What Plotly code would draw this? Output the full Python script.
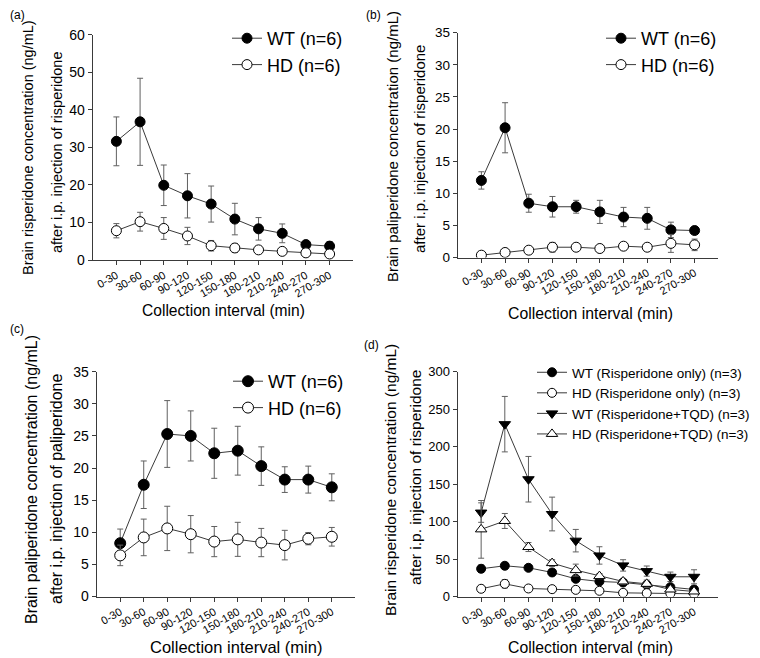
import plotly.graph_objects as go

categories = ["0-30", "30-60", "60-90", "90-120", "120-150", "150-180",
              "180-210", "210-240", "240-270", "270-300"]

# Panel (a): brain risperidone after risperidone injection
a_wt = [31.6, 36.8, 19.9, 17.1, 14.9, 10.9, 8.3, 7.1, 4.1, 3.7]
a_wt_se = [6.5, 11.6, 5.4, 5.9, 4.8, 4.2, 3.0, 2.5, 0.6, 1.2]
a_hd = [7.8, 10.2, 8.4, 6.4, 3.8, 3.2, 2.7, 2.3, 1.9, 1.6]
a_hd_se = [1.9, 2.5, 2.9, 2.3, 1.4, 1.2, 0.8, 0.5, 0.3, 0.3]

# Panel (b): brain paliperidone after risperidone injection
b_wt = [12.0, 20.2, 8.45, 7.9, 7.9, 7.1, 6.3, 6.1, 4.3, 4.2]
b_wt_se = [1.35, 3.9, 1.4, 1.6, 1.0, 1.8, 1.5, 1.7, 1.2, 0.3]
b_hd = [0.36, 0.78, 1.14, 1.6, 1.6, 1.4, 1.76, 1.6, 2.2, 1.97]
b_hd_se = [0.2, 0.3, 0.3, 0.75, 0.4, 0.4, 0.4, 0.4, 1.4, 0.9]

# Panel (c): brain paliperidone after paliperidone injection
c_wt = [8.3, 17.4, 25.3, 25.0, 22.3, 22.7, 20.3, 18.2, 18.2, 17.0]
c_wt_se = [2.2, 3.7, 5.2, 3.9, 3.9, 3.8, 3.0, 2.0, 2.1, 2.1]
c_hd = [6.4, 9.2, 10.6, 9.7, 8.55, 8.9, 8.4, 8.0, 9.0, 9.3]
c_hd_se = [1.6, 2.85, 3.45, 2.9, 2.35, 2.65, 2.2, 2.3, 0.95, 1.45]

# Panel (d): brain risperidone, risperidone only vs risperidone + TQD
d_wt_r = [37.0, 41.0, 38.3, 32.1, 23.6, 20.1, 18.7, 15.6, 12.5, 9.4]
d_wt_r_se = [5.0, 4.0, 2.0, 2.0, 3.0, 2.0, 2.0, 2.0, 3.0, 2.0]
d_hd_r = [10.3, 16.9, 10.7, 9.8, 8.9, 7.6, 4.9, 4.5, 4.0, 3.6]
d_hd_r_se = [1.0, 5.5, 1.0, 1.0, 1.0, 1.0, 1.0, 0.5, 0.5, 0.5]
d_wt_t = [112.0, 230.0, 156.5, 110.1, 74.5, 54.8, 41.5, 33.9, 26.3, 26.3]
d_wt_t_se = [13.0, 37.0, 30.4, 22.5, 15.0, 11.6, 7.6, 6.8, 6.3, 9.4]
d_hd_t = [89.6, 100.8, 66.0, 44.6, 35.2, 27.2, 20.1, 16.9, 9.4, 6.7]
d_hd_t_se = [38.5, 10.0, 6.0, 4.5, 8.0, 3.5, 4.0, 5.0, 3.0, 2.0]

FONT = "Liberation Sans, Arial, sans-serif"
LINE = "#3a3a3a"
ERR = "#606060"

fig = go.Figure()


def add(x_ax, y_ax, y, se, name, symbol, fill, size, legend):
    fig.add_trace(go.Scatter(
        x=categories, y=y, name=name, mode="lines+markers",
        xaxis=x_ax, yaxis=y_ax, legend=legend,
        line=dict(color=LINE, width=1),
        marker=dict(symbol=symbol, size=size, color=fill,
                    line=dict(color="black", width=1)),
        error_y=dict(type="data", array=se, visible=True,
                     color=ERR, thickness=1, width=3),
    ))


add("x", "y", a_wt, a_wt_se, "WT (n=6)", "circle", "black", 10, "legend")
add("x", "y", a_hd, a_hd_se, "HD (n=6)", "circle", "white", 10, "legend")
add("x2", "y2", b_wt, b_wt_se, "WT (n=6)", "circle", "black", 10, "legend2")
add("x2", "y2", b_hd, b_hd_se, "HD (n=6)", "circle", "white", 10, "legend2")
add("x3", "y3", c_wt, c_wt_se, "WT (n=6)", "circle", "black", 11, "legend3")
add("x3", "y3", c_hd, c_hd_se, "HD (n=6)", "circle", "white", 11, "legend3")
add("x4", "y4", d_wt_r, d_wt_r_se, "WT (Risperidone only) (n=3)", "circle", "black", 9, "legend4")
add("x4", "y4", d_hd_r, d_hd_r_se, "HD (Risperidone only) (n=3)", "circle", "white", 9, "legend4")
add("x4", "y4", d_wt_t, d_wt_t_se, "WT (Risperidone+TQD) (n=3)", "triangle-down", "black", 10, "legend4")
add("x4", "y4", d_hd_t, d_hd_t_se, "HD (Risperidone+TQD) (n=3)", "triangle-up", "white", 10, "legend4")

# the page body has an 8px margin, so the figure is sized to fill the rest of the window
OFF = 8
W, H = 760 - OFF, 658 - OFF


def px_x(v):
    return (v - OFF) / W


def px_y(v):
    return 1 - (v - OFF) / H


def xax(dom, anchor):
    return dict(domain=dom, anchor=anchor, type="category", range=[-1, 10],
                showline=True, linecolor=LINE, linewidth=1, ticks="outside",
                ticklen=4, tickcolor=LINE, tickangle=-30, showgrid=False,
                zeroline=False, automargin=False,
                tickfont=dict(family=FONT, size=11, color="black"))


def yax(dom, anchor, rng, dtick, fs=13):
    return dict(domain=dom, anchor=anchor, range=rng, dtick=dtick,
                showline=True, linecolor=LINE, linewidth=1, ticks="outside",
                ticklen=4, tickcolor=LINE, showgrid=False, zeroline=False,
                automargin=False,
                tickfont=dict(family=FONT, size=fs, color="black"))


def leg(x, y, fs):
    return dict(x=px_x(x), y=px_y(y), xanchor="left", yanchor="top",
                bgcolor="rgba(0,0,0,0)", font=dict(family=FONT, size=fs, color="black"),
                tracegroupgap=0)


fig.update_layout(
    width=W, height=H, margin=dict(l=0, r=0, t=0, b=0, autoexpand=False),
    paper_bgcolor="white", plot_bgcolor="white",
    font=dict(family=FONT, color="black"),
    xaxis=xax([px_x(92.7), px_x(353.3)], "y"),
    yaxis=yax([px_y(260), px_y(34.7)], "x", [0, 60], 10, 14),
    xaxis2=xax([px_x(457.7), px_x(718.3)], "y2"),
    yaxis2=yax([px_y(257.5), px_y(32.7)], "x2", [0, 35], 5, 13.5),
    xaxis3=xax([px_x(96.7), px_x(355.3)], "y3"),
    yaxis3=yax([px_y(596.5), px_y(371.7)], "x3", [0, 35], 5, 14),
    xaxis4=xax([px_x(457.5), px_x(717.7)], "y4"),
    yaxis4=yax([px_y(596.5), px_y(371.7)], "x4", [0, 300], 50, 13),
    legend=leg(227, 20, 18),
    legend2=leg(601, 20, 18),
    legend3=leg(228, 363, 18),
    legend4=leg(532, 357, 13.5),
)

ann = []
# y-axis titles, one annotation per line: (x, y, text, size)
ytitle_lines = [
    (28, 148, "Brain risperidone concentration (ng/mL)", 14.5),
    (57, 152, "after i.p. injection of risperidone", 14.5),
    (392, 146, "Brain paliperidone concentration (ng/mL)", 15),
    (420, 149, "after i.p. injection of risperidone", 15),
    (31, 480, "Brain paliperidone concentration (ng/mL)", 16),
    (56, 489, "after i.p. injection of paliperidone", 16),
    (390, 480, "Brain risperidone concentration (ng/mL)", 15.5),
    (415, 478, "after i.p. injection of risperidone", 15.5),
]
for x, y, t, fs in ytitle_lines:
    ann.append(dict(x=px_x(x), y=px_y(y), xref="paper", yref="paper", text=t,
                    textangle=-90, showarrow=False, xanchor="center", yanchor="middle",
                    font=dict(family=FONT, size=fs, color="black")))
xtitles = [(223.5, 310, 15.6), (590.5, 313, 15.8), (236, 647, 16.5), (590.5, 647, 15.8)]
for x, y, fs in xtitles:
    ann.append(dict(x=px_x(x), y=px_y(y), xref="paper", yref="paper",
                    text="Collection interval (min)", showarrow=False,
                    xanchor="center", yanchor="middle",
                    font=dict(family=FONT, size=fs, color="black")))
labels = [(8, 15, "(a)"), (364, 15, "(b)"), (8, 329, "(c)"), (362, 345, "(d)")]
for x, y, t in labels:
    ann.append(dict(x=px_x(x), y=px_y(y), xref="paper", yref="paper", text=t,
                    showarrow=False, xanchor="left", yanchor="middle",
                    font=dict(family=FONT, size=12, color="black")))
fig.update_layout(annotations=ann)

fig.write_html("out.html")
